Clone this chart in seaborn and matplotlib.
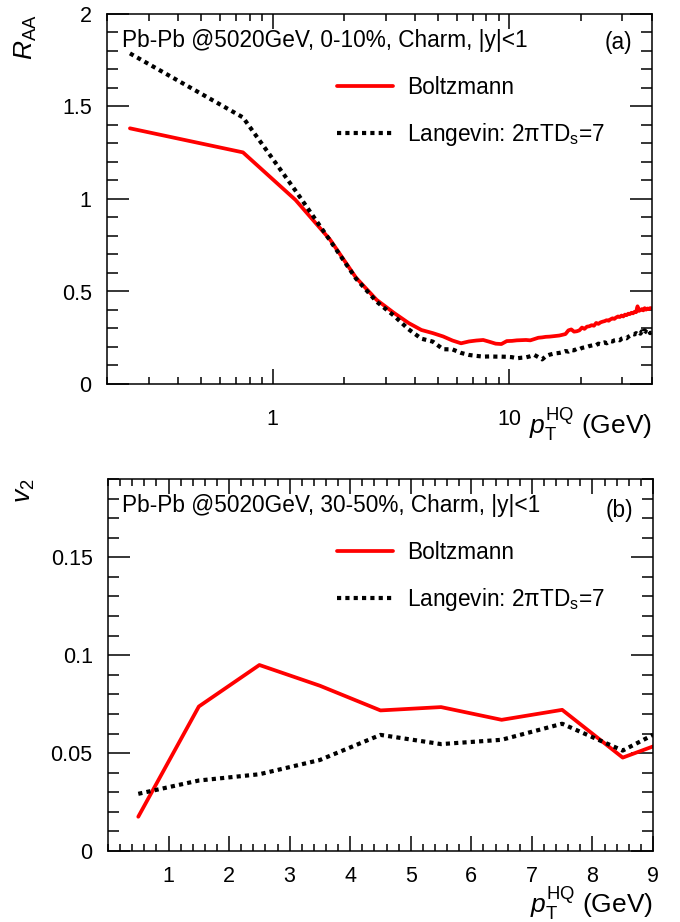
import numpy as np
import pandas as pd
import matplotlib
matplotlib.use("Agg")
import matplotlib.pyplot as plt
from matplotlib.ticker import FixedLocator, MultipleLocator, NullFormatter, FixedFormatter
import seaborn as sns

# ---------------- data ----------------
# (a) R_AA vs pT (0.5 GeV bins, centres 0.25 ... 39.75)
raa_boltz = [1.382, 1.252, 0.995, 0.78, 0.575, 0.455, 0.385, 0.33, 0.292, 0.275,
             0.257, 0.235, 0.22, 0.23, 0.235, 0.238, 0.228, 0.218, 0.216, 0.232,
             0.233, 0.236, 0.237, 0.238, 0.236, 0.243, 0.25, 0.252, 0.255, 0.256,
             0.258, 0.26, 0.262, 0.266, 0.27, 0.29, 0.295, 0.283, 0.285, 0.29,
             0.305, 0.298, 0.31, 0.312, 0.318, 0.315, 0.33, 0.325, 0.333, 0.337,
             0.34, 0.345, 0.342, 0.35, 0.355, 0.352, 0.36, 0.365, 0.362, 0.37,
             0.365, 0.375, 0.372, 0.38, 0.378, 0.385, 0.382, 0.39, 0.388, 0.42,
             0.395, 0.40, 0.405, 0.398, 0.41, 0.402, 0.408, 0.405, 0.41, 0.41]
raa_lang = [1.787, 1.441, 1.045, 0.775, 0.57, 0.445, 0.37, 0.296, 0.245, 0.229,
            0.188, 0.187, 0.168, 0.157, 0.152, 0.148, 0.149, 0.148, 0.148, 0.147,
            0.145, 0.139, 0.142, 0.144, 0.15, 0.157, 0.145, 0.133, 0.15, 0.158,
            0.163, 0.166, 0.168, 0.172, 0.178, 0.175, 0.184, 0.182, 0.19, 0.188,
            0.195, 0.198, 0.20, 0.205, 0.208, 0.211, 0.21, 0.218, 0.215, 0.222,
            0.225, 0.22, 0.228, 0.232, 0.23, 0.236, 0.238, 0.24, 0.236, 0.245,
            0.248, 0.25, 0.247, 0.255, 0.26, 0.265, 0.27, 0.268, 0.275, 0.27,
            0.28, 0.272, 0.285, 0.275, 0.29, 0.282, 0.278, 0.29, 0.275, 0.28]
raa_pt = 0.25 + 0.5 * np.arange(len(raa_boltz))

# (b) v2 vs pT
v2_pt = [0.5, 1.5, 2.5, 3.5, 4.5, 5.5, 6.5, 7.5, 8.5, 9.0]
v2_boltz = [0.0175, 0.0738, 0.095, 0.0844, 0.0718, 0.0735, 0.067, 0.0721, 0.0477, 0.0534]
v2_lang = [0.0292, 0.036, 0.0392, 0.0465, 0.0593, 0.0546, 0.0568, 0.065, 0.0513, 0.0593]

lab_b = "Boltzmann"
lab_l = "Langevin: 2\u03c0TD$_{\\rm s}$=7"

# ---------------- style ----------------
sns.set_theme(style="ticks")
plt.rcParams["font.family"] = ["Liberation Sans", "DejaVu Sans"]
plt.rcParams["mathtext.fontset"] = "custom"
plt.rcParams["mathtext.rm"] = "Liberation Sans"
plt.rcParams["mathtext.it"] = "Liberation Sans:italic"
plt.rcParams["axes.linewidth"] = 1.1
plt.rcParams["axes.edgecolor"] = "black"
plt.rcParams["text.color"] = "black"
plt.rcParams["axes.labelcolor"] = "black"
plt.rcParams["xtick.color"] = "black"
plt.rcParams["ytick.color"] = "black"

fig = plt.figure(figsize=(6.8, 9.22), dpi=100)
ax1 = fig.add_axes([107 / 680, 1 - 384 / 922, 545 / 680, 370 / 922])
ax2 = fig.add_axes([108 / 680, 1 - 851 / 922, 545 / 680, 372 / 922])

df1 = pd.DataFrame({"pt": np.concatenate([raa_pt, raa_pt]),
                    "val": raa_boltz + raa_lang,
                    "model": [lab_b] * len(raa_pt) + [lab_l] * len(raa_pt)})
df2 = pd.DataFrame({"pt": v2_pt + v2_pt,
                    "val": v2_boltz + v2_lang,
                    "model": [lab_b] * len(v2_pt) + [lab_l] * len(v2_pt)})

pal = {lab_b: "#ff0000", lab_l: "black"}
for ax, df in [(ax1, df1), (ax2, df2)]:
    sns.lineplot(data=df, x="pt", y="val", hue="model", style="model",
                 palette=pal, dashes={lab_b: "", lab_l: (1, 1)},
                 estimator=None, sort=False, linewidth=2.7, ax=ax)
    for ln in ax.get_lines():
        ln.set_dash_capstyle("butt")
        if ln.get_color() in ("black", "k"):
            ln.set_linewidth(3.0)

fs_tick = 15.5
fs_txt = 16.3
fs_lab = 19

# ---- panel (a)
ax1.set_xscale("log")
ax1.set_xlim(0.2, 40)
ax1.set_ylim(0, 2)
ax1.xaxis.set_major_locator(FixedLocator([1, 10]))
ax1.xaxis.set_major_formatter(FixedFormatter(["1", "10"]))
minor = [m * 10.0 ** e for e in (-1, 0, 1) for m in range(2, 10)]
ax1.xaxis.set_minor_locator(FixedLocator([v for v in minor if 0.2 <= v <= 40]))
ax1.xaxis.set_minor_formatter(NullFormatter())
ax1.yaxis.set_major_locator(MultipleLocator(0.5))
ax1.yaxis.set_minor_locator(MultipleLocator(0.1))
ax1.yaxis.set_major_formatter(matplotlib.ticker.FuncFormatter(lambda v, p: f"{v:g}"))
ax1.tick_params(axis="x", which="major", direction="in", length=11, width=1.1,
                top=True, labelsize=fs_tick, pad=18)
ax1.tick_params(axis="x", which="minor", direction="in", length=5, width=1.1, top=True)
ax1.tick_params(axis="y", which="major", direction="in", length=16, width=1.1,
                right=True, labelsize=fs_tick, pad=11)
ax1.tick_params(axis="y", which="minor", direction="in", length=8, width=1.1, right=True)
ax1.set_xlabel(r"$p_{\rm T}^{\rm HQ}$ (GeV)", fontsize=fs_lab, loc="right")
ax1.xaxis.set_label_coords(1.0, -0.06)
ax1.set_ylabel(r"$R_{\rm AA}$", fontsize=fs_lab, loc="top")
ax1.yaxis.set_label_coords(-0.125, 1.0)
ax1.text(122 / 680, 1 - 40 / 922, "Pb-Pb @5020GeV, 0-10%, Charm, |y|<1",
         transform=fig.transFigure, fontsize=fs_txt, va="center", ha="left")
ax1.text(632 / 680, 1 - 43 / 922, "(a)", transform=fig.transFigure,
         fontsize=fs_txt, va="center", ha="right")
ax1.legend(loc="upper left", bbox_to_anchor=((328 - 107) / 545, (384 - 67) / 370),
           frameon=False, fontsize=fs_txt, handlelength=2.47, handletextpad=0.62,
           labelspacing=0.95, borderaxespad=0)

# ---- panel (b)
ax2.set_xlim(0, 9)
ax2.set_ylim(0, 0.19)
ax2.xaxis.set_major_locator(FixedLocator([1, 2, 3, 4, 5, 6, 7, 8, 9]))
ax2.xaxis.set_minor_locator(MultipleLocator(0.2))
ax2.yaxis.set_major_locator(FixedLocator([0, 0.05, 0.1, 0.15]))
ax2.yaxis.set_major_formatter(FixedFormatter(["0", "0.05", "0.1", "0.15"]))
ax2.yaxis.set_minor_locator(MultipleLocator(0.01))
ax2.tick_params(axis="x", which="major", direction="in", length=11, width=1.1,
                top=True, labelsize=fs_tick, pad=11)
ax2.tick_params(axis="x", which="minor", direction="in", length=5, width=1.1, top=True)
ax2.tick_params(axis="y", which="major", direction="in", length=16, width=1.1,
                right=True, labelsize=fs_tick, pad=11)
ax2.tick_params(axis="y", which="minor", direction="in", length=8, width=1.1, right=True)
ax2.set_xlabel(r"$p_{\rm T}^{\rm HQ}$ (GeV)", fontsize=fs_lab, loc="right")
ax2.xaxis.set_label_coords(1.0, -0.093)
ax2.set_ylabel(r"$v_{2}$", fontsize=fs_lab, loc="top")
ax2.yaxis.set_label_coords(-0.13, 1.0)
ax2.text(122 / 680, 1 - 505 / 922, "Pb-Pb @5020GeV, 30-50%, Charm, |y|<1",
         transform=fig.transFigure, fontsize=fs_txt, va="center", ha="left")
ax2.text(633 / 680, 1 - 510 / 922, "(b)", transform=fig.transFigure,
         fontsize=fs_txt, va="center", ha="right")
ax2.legend(loc="upper left", bbox_to_anchor=((328 - 108) / 545, (851 - 532) / 372),
           frameon=False, fontsize=fs_txt, handlelength=2.47, handletextpad=0.62,
           labelspacing=0.95, borderaxespad=0)

fig.savefig("out.png", dpi=100)
